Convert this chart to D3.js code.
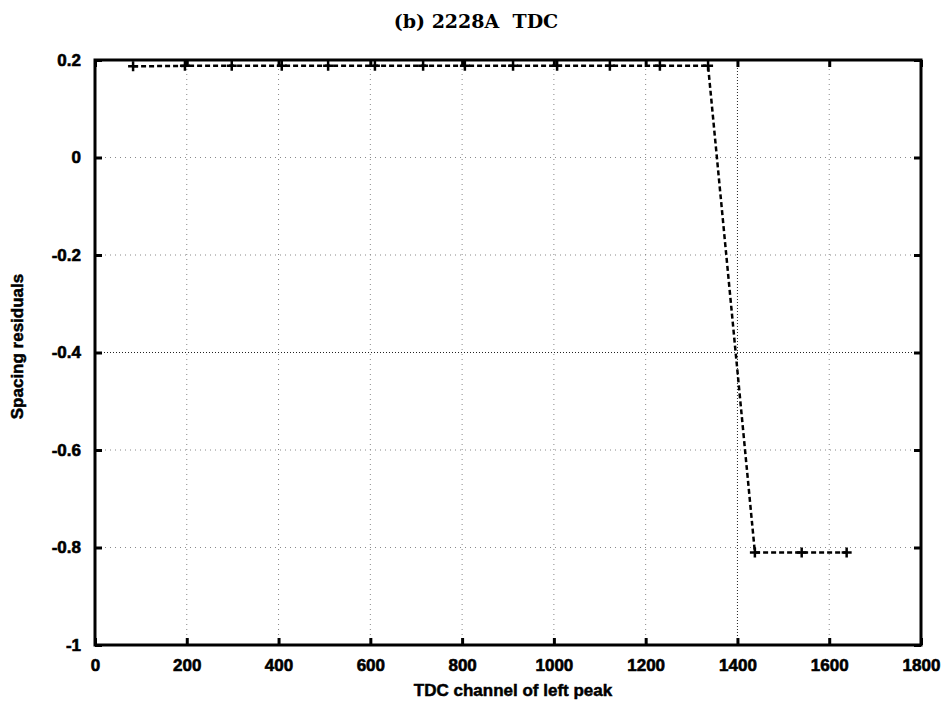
<!DOCTYPE html>
<html>
<head>
<meta charset="utf-8">
<script src="https://cdn.jsdelivr.net/npm/d3@7"></script>
<style>
  body { margin: 0; background: #fff; }
  .tick text { font-family: "Liberation Sans", Arial, sans-serif; font-weight: bold; font-size: 17px; fill: #000; stroke: #000; stroke-width: 0.6px; }
  .lbl { font-family: "Liberation Sans", Arial, sans-serif; font-weight: bold; font-size: 17px; stroke: #000; stroke-width: 0.5px; }
</style>
</head>
<body>
<svg></svg>
<script>
/*
data
*/
var channels = [83, 196, 298, 407, 508, 610, 715, 806, 911, 1007, 1122, 1231, 1336, 1438, 1540, 1638];
var residuals = [0.187, 0.188, 0.188, 0.188, 0.188, 0.188, 0.188, 0.188, 0.188, 0.188, 0.188, 0.188, 0.188, -0.81, -0.81, -0.81];
var xTicks = [0, 200, 400, 600, 800, 1000, 1200, 1400, 1600, 1800];
var yTicks = [0.2, 0, -0.2, -0.4, -0.6, -0.8, -1];

var title = '(b) 2228A  TDC';
var xLabel = 'TDC channel of left peak';
var yLabel = 'Spacing residuals';

/*
svg window
*/
var svgWidth = 946;
var svgHeight = 707;
var margin = { top: 60, right: 25, bottom: 62, left: 95 };

var svg = d3.select('svg')
	.attr('width', svgWidth)
	.attr('height', svgHeight);

var x = d3.scaleLinear()
	.domain([0, 1800])
	.range([margin.left, svgWidth - margin.right]);

var y = d3.scaleLinear()
	.domain([-1, 0.2])
	.range([svgHeight - margin.bottom, margin.top]);

/*
grid lines (dotted)
*/
svg.append('g')
	.selectAll('line')
	.data(xTicks.slice(1, -1))
	.enter().append('line')
	.attr('x1', d => x(d)).attr('x2', d => x(d))
	.attr('y1', y(-1)).attr('y2', y(0.2))
	.attr('stroke', d => d == 1400 ? '#222' : '#888')
	.attr('stroke-width', 1)
	.attr('stroke-dasharray', d => d == 1400 ? '1,2' : '1,4');

svg.append('g')
	.selectAll('line')
	.data(yTicks.slice(1, -1))
	.enter().append('line')
	.attr('x1', x(0)).attr('x2', x(1800))
	.attr('y1', d => y(d)).attr('y2', d => y(d))
	.attr('stroke', d => d == -0.4 ? '#222' : '#888')
	.attr('stroke-width', 1)
	.attr('stroke-dasharray', d => d == -0.4 ? '1,2' : '1,4');

/*
axes, ticks point inward
*/
// plain hyphen for negatives, like the original
var fmt = d => String(+d.toFixed(1));

svg.append('g')
	.attr('transform', 'translate(0,' + y(-1) + ')')
	.call(d3.axisBottom(x).tickValues(xTicks).tickSize(-7).tickPadding(14).tickFormat(fmt))
	.call(g => g.select('.domain').remove())
	.call(g => g.selectAll('.tick line').attr('stroke-width', 3));

svg.append('g')
	.attr('transform', 'translate(0,' + y(0.2) + ')')
	.call(d3.axisTop(x).tickValues(xTicks).tickSize(-7).tickFormat(''))
	.call(g => g.select('.domain').remove())
	.call(g => g.selectAll('.tick line').attr('stroke-width', 3));

svg.append('g')
	.attr('transform', 'translate(' + x(0) + ',0)')
	.call(d3.axisLeft(y).tickValues(yTicks).tickSize(-7).tickPadding(14).tickFormat(fmt))
	.call(g => g.select('.domain').remove())
	.call(g => g.selectAll('.tick line').attr('stroke-width', 3));

svg.append('g')
	.attr('transform', 'translate(' + x(1800) + ',0)')
	.call(d3.axisRight(y).tickValues(yTicks).tickSize(-7).tickFormat(''))
	.call(g => g.select('.domain').remove())
	.call(g => g.selectAll('.tick line').attr('stroke-width', 3));

// frame
svg.append('rect')
	.attr('x', x(0)).attr('y', y(0.2))
	.attr('width', x(1800) - x(0)).attr('height', y(-1) - y(0.2))
	.attr('fill', 'none')
	.attr('stroke', '#000')
	.attr('stroke-width', 3);

/*
the data line
*/
var pairs = channels.map((c, i) => ({ x: c, y: residuals[i] }));

var line = d3.line()
	.x(d => x(d.x))
	.y(d => y(d.y));

svg.append('path')
	.datum(pairs)
	.attr('fill', 'none')
	.attr('stroke', '#000')
	.attr('stroke-width', 2.5)
	.attr('stroke-dasharray', '5,3')
	.attr('d', line);

svg.append('g')
	.selectAll('path')
	.data(pairs)
	.enter().append('path')
	.attr('d', d => 'M' + (x(d.x) - 5) + ',' + y(d.y) + 'h10M' + x(d.x) + ',' + (y(d.y) - 5) + 'v10')
	.attr('stroke', '#000')
	.attr('stroke-width', 2.5);

/*
titles
*/
svg.append('text')
	.attr('x', 476).attr('y', 28)
	.attr('text-anchor', 'middle')
	.style('font-family', '"DejaVu Serif", "Liberation Serif", serif')
	.style('font-weight', 'bold')
	.style('font-size', '19px')
	.style('white-space', 'pre')
	.text(title);

svg.append('text')
	.attr('class', 'lbl')
	.attr('x', x(900) + 5).attr('y', 696)
	.attr('text-anchor', 'middle')
	.text(xLabel);

svg.append('text')
	.attr('class', 'lbl')
	.attr('transform', 'translate(23,' + (y(-0.4) - 6) + ') rotate(-90)')
	.attr('text-anchor', 'middle')
	.text(yLabel);
</script>
</body>
</html>
